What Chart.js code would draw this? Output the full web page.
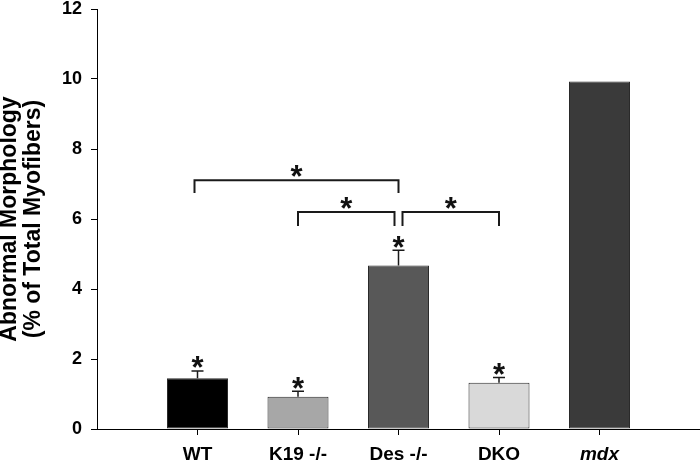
<!DOCTYPE html>
<html>
<head>
<meta charset="utf-8">
<script src="https://cdn.jsdelivr.net/npm/chart.js@4"></script>
<style>
  html, body { margin: 0; padding: 0; background: #fff; }
  #wrap { width: 700px; height: 462px; position: relative; }
</style>
</head>
<body>
<div id="wrap"><canvas id="c"></canvas></div>
<script>
// ---- data ----
const categories = ['WT', 'K19 -/-', 'Des -/-', 'DKO', 'mdx'];
const values = [1.45, 0.92, 4.67, 1.32, 9.93];
const errors = [0.21, 0.16, 0.44, 0.15, null];
const starred = [true, true, true, true, false];
const barColors = ['#000000', '#a7a7a7', '#585858', '#d9d9d9', '#3a3a3a'];
const yTicks = [0, 2, 4, 6, 8, 10, 12];
// significance brackets: from category, to category, level, leg length (data units)
const bracketFrom = [0, 1, 2];
const bracketTo = [2, 2, 3];
const bracketLevel = [7.11, 6.2, 6.2];
const bracketDrop = [0.37, 0.4, 0.4];

const FONT = "Arial, 'Liberation Sans', Helvetica, sans-serif";

// pad with empty slots so the bars sit one slot in from each edge
const labels = [''].concat(categories, ['']);
const data = [null].concat(values, [null]);
const colors = ['#000'].concat(barColors, ['#000']);

const overlay = {
  id: 'overlay',
  afterDatasetsDraw(chart) {
    const ctx = chart.ctx;
    const x = chart.scales.x, y = chart.scales.y;
    ctx.save();
    ctx.strokeStyle = '#1a1a1a';
    categories.forEach((c, i) => {
      const cx = x.getPixelForValue(i + 1);
      let topVal = values[i];
      if (errors[i] != null) {
        topVal = values[i] + errors[i];
        const y0 = y.getPixelForValue(values[i]);
        const y1 = y.getPixelForValue(topVal);
        ctx.lineWidth = 1.5;
        ctx.beginPath();
        ctx.moveTo(cx, y0); ctx.lineTo(cx, y1);
        ctx.moveTo(cx - 6, y1); ctx.lineTo(cx + 6, y1);
        ctx.stroke();
      }
      if (starred[i]) {
        drawStar(ctx, cx, y.getPixelForValue(topVal) - 10);
      }
    });
    ctx.lineWidth = 2;
    bracketFrom.forEach((f, k) => {
      const t = bracketTo[k];
      let xa = x.getPixelForValue(f + 1);
      let xb = x.getPixelForValue(t + 1);
      if (k === 0) xa -= 3;
      if (k === 1) xb -= 4;
      if (k === 2) xa += 4;
      const yl = y.getPixelForValue(bracketLevel[k]);
      const yd = y.getPixelForValue(bracketLevel[k] - bracketDrop[k]);
      ctx.beginPath();
      ctx.moveTo(xa, yd); ctx.lineTo(xa, yl); ctx.lineTo(xb, yl); ctx.lineTo(xb, yd);
      ctx.stroke();
      drawStar(ctx, (xa + xb) / 2, yl - 11);
    });
    ctx.restore();
  }
};

function drawStar(ctx, cx, cy) {
  ctx.save();
  ctx.font = "bold 31px " + FONT;
  ctx.textAlign = 'center';
  ctx.textBaseline = 'alphabetic';
  ctx.fillStyle = '#111';
  ctx.fillText('*', cx, cy + 17.5);
  ctx.restore();
}

new Chart(document.getElementById('c'), {
  type: 'bar',
  data: {
    labels: labels,
    datasets: [{
      data: data,
      backgroundColor: colors,
      borderColor: '#2a2a2a',
      borderWidth: 1,
      borderSkipped: false,
      categoryPercentage: 1,
      barPercentage: 0.607
    }]
  },
  options: {
    responsive: true,
    maintainAspectRatio: false,
    animation: false,
    layout: { padding: { top: 9, right: 0, bottom: 0, left: 0 } },
    plugins: { legend: { display: false }, tooltip: { enabled: false } },
    scales: {
      x: {
        type: 'category',
        offset: false,
        afterFit(s) { s.height = 33; s.paddingLeft = 0; s.paddingRight = 0; },
        grid: {
          offset: false,
          drawOnChartArea: false,
          drawTicks: true,
          tickLength: 6,
          tickWidth: 1,
          tickColor: (c) => (c.index === 0 || c.index === labels.length - 1) ? 'rgba(0,0,0,0)' : '#000'
        },
        border: { display: true, color: '#000', width: 1 },
        ticks: {
          color: '#000',
          padding: 8,
          maxRotation: 0,
          autoSkip: false,
          font: (c) => ({ family: FONT, size: 19, weight: 'bold', style: c.index === 5 ? 'italic' : 'normal' })
        }
      },
      y: {
        min: 0,
        max: 12,
        afterFit(s) { s.width = 97; s.paddingTop = 0; s.paddingBottom = 0; },
        afterBuildTicks(s) { s.ticks = yTicks.map(v => ({ value: v })); },
        grid: { drawOnChartArea: false, drawTicks: true, tickLength: 6, tickColor: '#000' },
        border: { display: true, color: '#000', width: 1 },
        ticks: {
          color: '#000',
          padding: 9,
          font: { family: FONT, size: 18, weight: 'bold' }
        },
        title: {
          display: true,
          text: ['Abnormal Morphology', '(% of Total Myofibers)'],
          color: '#000',
          font: { family: FONT, size: 23, weight: 'bold', lineHeight: 1.03 },
          padding: { top: -2, bottom: 0 }
        }
      }
    }
  },
  plugins: [overlay]
});
</script>
</body>
</html>
